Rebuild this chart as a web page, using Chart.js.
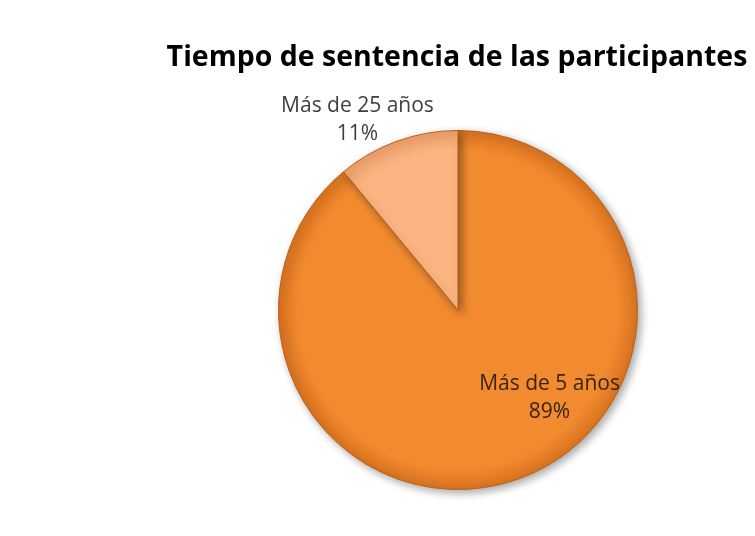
<!DOCTYPE html>
<html>
<head>
<meta charset="utf-8">
<script src="https://cdn.jsdelivr.net/npm/chart.js@4.4.0/dist/chart.umd.min.js"></script>
<style>
  html, body { margin: 0; padding: 0; background: #fff; }
  #wrap { width: 755px; height: 536px; }
</style>
</head>
<body>
<div id="wrap"><canvas id="pie" width="755" height="536"></canvas></div>
<script>
// Chart data
var chartTitle = 'Tiempo de sentencia de las participantes';
var categories = ['Más de 5 años', 'Más de 25 años'];
var values = [89, 11];
var sliceColors = [['#F28B30', '#D8721E'], ['#FBB482', '#EE9E6A']];
var labelColors = ['#3a2410', '#404040'];
// where the label sits, relative to pie centre, in radius units
var labelOffsets = [[0.51, 0.49], [-0.56, -1.06]];

// radial gradient for each slice so it looks a bit like the excel bevel
function sliceFill(context) {
    var chart = context.chart;
    var area = chart.chartArea;
    if (!area) return sliceColors[context.dataIndex][0];
    var cx = (area.left + area.right) / 2;
    var cy = (area.top + area.bottom) / 2;
    var r = Math.min(area.right - area.left, area.bottom - area.top) / 2;
    var g = chart.ctx.createRadialGradient(cx, cy, 0, cx, cy, r);
    var c = sliceColors[context.dataIndex];
    g.addColorStop(0, c[0]);
    g.addColorStop(0.88, c[0]);
    g.addColorStop(1, c[1]);
    return g;
}

// soft shadow under the pie
var shadowPlugin = {
    id: 'pieShadow',
    beforeDatasetsDraw: function (chart) {
        var ctx = chart.ctx;
        ctx.save();
        ctx.shadowColor = 'rgba(0,0,0,0.35)';
        ctx.shadowBlur = 8;
        ctx.shadowOffsetX = 3;
        ctx.shadowOffsetY = 3;
    },
    afterDatasetsDraw: function (chart) {
        chart.ctx.restore();
    }
};

// title and the category / percent labels
var textPlugin = {
    id: 'pieText',
    afterDraw: function (chart) {
        var ctx = chart.ctx;
        var meta = chart.getDatasetMeta(0);
        var arc = meta.data[0];
        var cx = arc.x, cy = arc.y, r = arc.outerRadius;
        var total = values.reduce(function (a, b) { return a + b; }, 0);

        ctx.save();
        ctx.textAlign = 'center';
        ctx.textBaseline = 'middle';
        ctx.fillStyle = '#000';
        ctx.font = 'bold 28.5px "Open Sans", sans-serif';
        ctx.fillText(chartTitle, 457, 58);

        ctx.font = '21px "Open Sans", sans-serif';
        categories.forEach(function (cat, i) {
            var lx = cx + labelOffsets[i][0] * r;
            var ly = cy + labelOffsets[i][1] * r;
            var pct = Math.round(values[i] / total * 100) + '%';
            ctx.fillStyle = labelColors[i];
            ctx.fillText(cat, lx, ly - 14);
            ctx.fillText(pct, lx, ly + 14);
        });
        ctx.restore();
    }
};

var ctx = document.getElementById('pie').getContext('2d');
var chart = new Chart(ctx, {
    type: 'pie',
    data: {
        labels: categories,
        datasets: [{
            data: values,
            backgroundColor: sliceFill,
            borderColor: '#B9611A',
            borderWidth: 1
        }]
    },
    options: {
        responsive: false,
        animation: false,
        layout: { padding: { left: 278, right: 117, top: 130, bottom: 46 } },
        plugins: {
            legend: { display: false },
            title: { display: false },
            tooltip: { enabled: false }
        }
    },
    plugins: [shadowPlugin, textPlugin]
});
</script>
</body>
</html>
